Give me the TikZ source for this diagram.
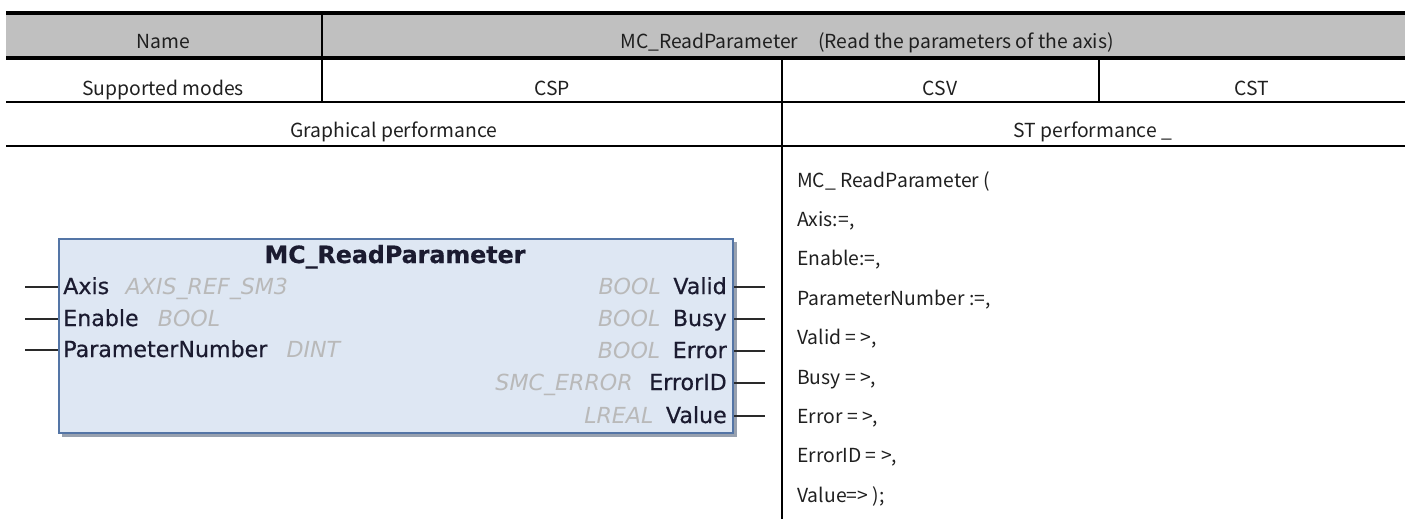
\documentclass[tikz,border=0pt]{standalone}
\usepackage{fontspec}
\setmainfont{Noto Sans CJK SC}
\newfontfamily\blkfont[FakeBold=0.6]{DejaVu Sans}
\newfontfamily\blktypefont{DejaVu Sans}
\definecolor{hdrgray}{HTML}{C0C0C0}
\definecolor{blkfill}{HTML}{DEE7F3}
\definecolor{blkborder}{HTML}{5475A6}
\definecolor{shadowc}{HTML}{98A1AF}
\definecolor{pincol}{HTML}{2A2A2A}
\definecolor{lblcol}{HTML}{1B1B30}
\definecolor{typcol}{HTML}{B9B9B9}
\begin{document}
\begin{tikzpicture}[x=0.75pt,y=-0.75pt,
  tt/.style={font=\fontsize{14.5}{17}\selectfont, text=black!88, inner sep=0pt, anchor=base},
  code/.style={tt, anchor=base west},
  thickrule/.style={line width=3pt, draw=black},
  thinrule/.style={line width=1.7pt, draw=black},
  pin/.style={line width=1.5pt, draw=pincol},
  lbl/.style={font=\blkfont\fontsize{16.6}{20}\selectfont, text=lblcol, inner sep=0pt},
  typ/.style={font=\blktypefont\itshape\fontsize{16.6}{20}\selectfont, text=typcol, inner sep=0pt},
  ttl/.style={font=\blkfont\bfseries\fontsize{17.8}{21}\selectfont, text=lblcol, inner sep=0pt, anchor=base},
  blkstyle/.style={draw=blkborder, line width=1.5pt, fill=blkfill, anchor=north west, inner sep=0pt, minimum width=505.5pt, minimum height=145.5pt}
]
\useasboundingbox (0,0) rectangle (1405,519);
% table
\fill[hdrgray] (6,13) rectangle (1405,58);
\draw[thickrule] (6,13) -- (1405,13);
\draw[thickrule] (6,58) -- (1405,58);
\draw[thinrule] (6,102) -- (1405,102);
\draw[thinrule] (6,146) -- (1405,146);
\draw[thinrule] (322,13) -- (322,102);
\draw[thinrule] (782,58) -- (782,519);
\draw[thinrule] (1099,58) -- (1099,102);
% table texts
\node[tt] (hname) at (163,48) {Name};
\node[tt] (hfunc) at (867,48) {MC\_ReadParameter\hspace{15pt}(Read the parameters of the axis)};
\node[tt] (smodes) at (163,95) {Supported modes};
\node[tt] (csp) at (552,95) {CSP};
\node[tt] (csv) at (940,95) {CSV};
\node[tt] (cst) at (1252,95) {CST};
\node[tt] (gperf) at (394,137) {Graphical performance};
\node[tt] (stperf) at (1093,137) {ST performance \_};
% ST code
\node[code] (st1) at (797,187.0) {MC\_ ReadParameter (};
\node[code] (st2) at (797,226.4) {Axis:=,};
\node[code] (st3) at (797,265.8) {Enable:=,};
\node[code] (st4) at (797,305.2) {ParameterNumber :=,};
\node[code] (st5) at (797,344.6) {Valid = >,};
\node[code] (st6) at (797,384.0) {Busy = >,};
\node[code] (st7) at (797,423.4) {Error = >,};
\node[code] (st8) at (797,462.8) {ErrorID = >,};
\node[code] (st9) at (797,502.2) {Value=> );};
% function block
\fill[shadowc] (62,242) rectangle (737,437);
\node[blkstyle] (blk) at (58,238) {};
\node[ttl] (title) at (395,263) {MC\_ReadParameter};
% inputs
\node[lbl, anchor=base west] (iAxis) at (63,294) {Axis};
\node[typ, anchor=base west] (tAxis) at ([xshift=12pt]iAxis.base east) {AXIS\_REF\_SM3};
\node[lbl, anchor=base west] (iEnable) at (63,326) {Enable};
\node[typ, anchor=base west] (tEnable) at ([xshift=14pt]iEnable.base east) {BOOL};
\node[lbl, anchor=base west] (iPN) at (63,357) {ParameterNumber};
\node[typ, anchor=base west] (tPN) at ([xshift=14pt]iPN.base east) {DINT};
\coordinate (pAxis) at (25,287);
\coordinate (pEnable) at (25,319);
\coordinate (pPN) at (25,350);
\draw[pin] (pAxis) -- (pAxis -| blk.west);
\draw[pin] (pEnable) -- (pEnable -| blk.west);
\draw[pin] (pPN) -- (pPN -| blk.west);
% outputs
\node[lbl, anchor=base east] (oValid) at (727,294) {Valid};
\node[typ, anchor=base east] (tValid) at ([xshift=-9pt]oValid.base west) {BOOL};
\node[lbl, anchor=base east] (oBusy) at (727,326) {Busy};
\node[typ, anchor=base east] (tBusy) at ([xshift=-9pt]oBusy.base west) {BOOL};
\node[lbl, anchor=base east] (oError) at (727,358) {Error};
\node[typ, anchor=base east] (tError) at ([xshift=-9pt]oError.base west) {BOOL};
\node[lbl, anchor=base east] (oErrorID) at (727,390) {ErrorID};
\node[typ, anchor=base east] (tErrorID) at ([xshift=-12pt]oErrorID.base west) {SMC\_ERROR};
\node[lbl, anchor=base east] (oValue) at (727,423) {Value};
\node[typ, anchor=base east] (tValue) at ([xshift=-9pt]oValue.base west) {LREAL};
\coordinate (qValid) at (765,287);
\coordinate (qBusy) at (765,319);
\coordinate (qError) at (765,351);
\coordinate (qErrorID) at (765,383);
\coordinate (qValue) at (765,416);
\draw[pin] (qValid -| blk.east) -- (qValid);
\draw[pin] (qBusy -| blk.east) -- (qBusy);
\draw[pin] (qError -| blk.east) -- (qError);
\draw[pin] (qErrorID -| blk.east) -- (qErrorID);
\draw[pin] (qValue -| blk.east) -- (qValue);
\end{tikzpicture}
\end{document}
